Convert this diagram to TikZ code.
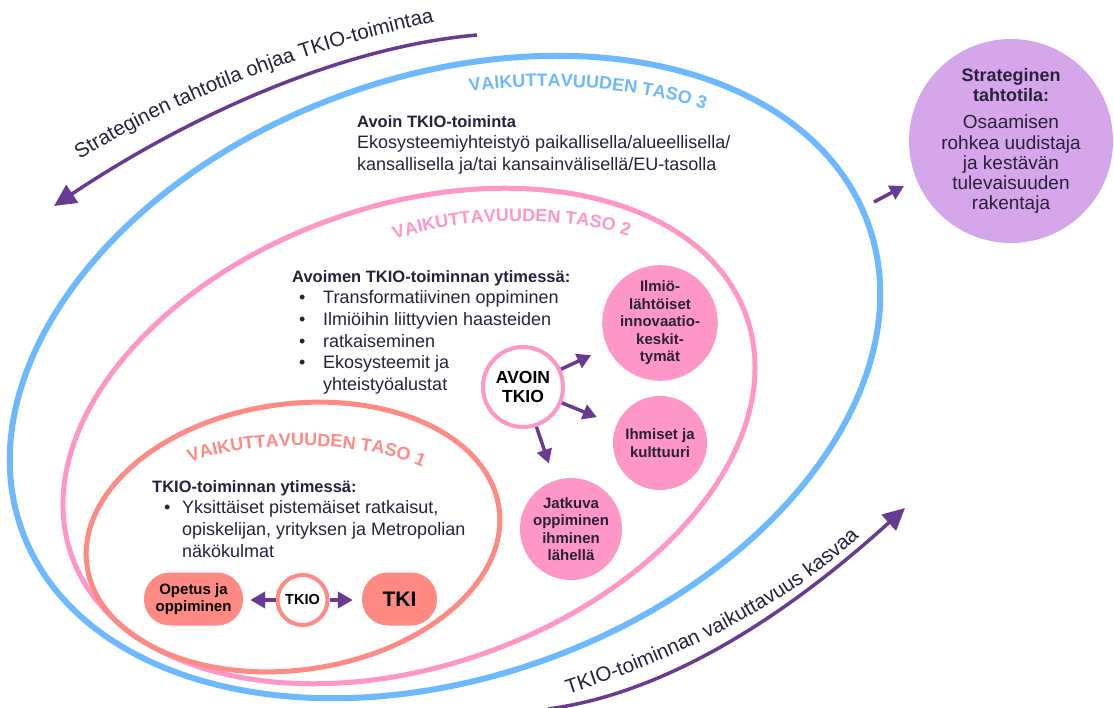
\documentclass[tikz,border=0pt]{standalone}
\usepackage{fontspec}
\setmainfont{Liberation Sans}
\usetikzlibrary{arrows.meta,decorations.text}

\definecolor{ink}{HTML}{272139}
\definecolor{plum}{HTML}{683A91}
\definecolor{lilac}{HTML}{D5A7EA}
\definecolor{lvlthree}{HTML}{6DB9FF}
\definecolor{lvltwo}{HTML}{FF96C8}
\definecolor{lvlone}{HTML}{FF8A84}

\newcommand{\fsz}[2]{\fontsize{#1}{#2}\selectfont}
\newcommand{\bul}[2]{\makebox[#2][l]{\hspace*{#1}\textbullet}}

\begin{document}
\begin{tikzpicture}[x=1pt, y=-1pt,
  body/.style={text=ink, inner sep=0pt, font=\fsz{18}{21.7}},
  bubble/.style={circle, fill=lvltwo, inner sep=0pt, text=ink, align=center, font=\fsz{15}{17.5}\bfseries},
  ring/.style={circle, fill=white, line width=4pt, inner sep=0pt, align=center, text=black},
  pill/.style={rectangle, rounded corners=26pt, fill=lvlone, minimum height=53pt, inner sep=0pt, align=center, text=black, font=\fsz{15}{17}\bfseries},
  bigarrow/.style={draw=plum, line width=3.5pt, -{Triangle[length=22pt,width=21pt]}},
  smallarrow/.style={draw=plum, line width=3.5pt, -{Triangle[length=14pt,width=15pt]}},
  arctext/.style={decorate, decoration={text along path, text={#1}}},
]
\useasboundingbox (0,0) rectangle (1114,708);

% impact levels
\draw[lvlthree, line width=6pt, rotate around={20:(445,377)}] (445,377) ellipse [x radius=450, y radius=300];
\draw[lvltwo, line width=5pt, rotate around={19.6:(409,436)}] (409,436) ellipse [x radius=358, y radius=230];
\draw[lvlone, line width=5pt, rotate around={8:(293,537)}] (293,537) ellipse [x radius=208, y radius=133];

% curved level titles
\path[arctext={|\fsz{18}{20}\bfseries\color{lvlthree}|VAIKUTTAVUUDEN TASO 3}]
  (470,92) .. controls (540,80) and (650,88) .. (716,113) -- (740,123);
\path[arctext={|\fsz{18}{20}\bfseries\color{lvltwo}|VAIKUTTAVUUDEN TASO 2}]
  (395,240) .. controls (460,216) and (570,214) .. (640,240) -- (660,250);
\path[arctext={|\fsz{18}{20}\bfseries\color{lvlone}|VAIKUTTAVUUDEN TASO 1}]
  (190,463) .. controls (250,438) and (375,440) .. (432,472) -- (445,480);

% strategic goal
\node[circle, fill=lilac, minimum size=204pt, inner sep=0pt, align=center, text=ink, font=\fsz{19}{20.3}] (strat) at (1011,141)
  {\textbf{\fsz{18}{20.3}Strateginen}\\\textbf{\fsz{18}{20.3}tahtotila:}\\[7pt]Osaamisen\\rohkea uudistaja\\ja kestävän\\tulevaisuuden\\rakentaja};
\coordinate (sa) at (874,202);
\coordinate (sb) at (904,186);
\draw[smallarrow] (sa) -- (sb);

% outer arrows with their captions
\coordinate (topS) at (477,35);
\coordinate (topE) at (54,206);
\draw[bigarrow] (topS) .. controls (330,48) and (175,125) .. (topE);
\path[arctext={|\fsz{20.5}{22}\color{ink}|Strateginen tahtotila ohjaa TKIO-toimintaa}]
  (80,160) .. controls (165,105) and (315,45) .. (445,20) -- (480,14);

\coordinate (botS) at (548,709);
\coordinate (botE) at (905,508);
\draw[bigarrow] (botS) .. controls (690,690) and (820,585) .. (botE);
\path[arctext={|\fsz{20.5}{22}\color{ink}|TKIO-toiminnan vaikuttavuus kasvaa}]
  (568,694) .. controls (660,665) and (780,612) .. (858,538) -- (875,522);

% level 3 text
\node[body, anchor=north west, align=left, font=\fsz{18}{21.5}] (l3text) at (357,115)
  {\textbf{\fsz{16.5}{21.5}Avoin TKIO-toiminta}\\Ekosysteemiyhteistyö paikallisella/alueellisella/\\kansallisella ja/tai kansainvälisellä/EU-tasolla};

% level 2 text
\node[body, anchor=north west, align=left] (l2text) at (292,270)
  {\textbf{\fsz{16.5}{21.7}Avoimen TKIO-toiminnan ytimessä:}\\
   \bul{7pt}{31pt}Transformatiivinen oppiminen\\
   \bul{7pt}{31pt}Ilmiöihin liittyvien haasteiden\\
   \bul{7pt}{31pt}ratkaiseminen\\
   \bul{7pt}{31pt}Ekosysteemit ja\\
   \hspace*{31pt}yhteistyöalustat};

\node[ring, draw=lvltwo, minimum size=80pt, font=\fsz{17.5}{19}\bfseries] (avoin) at (523,387) {AVOIN\\TKIO};
\node[bubble, minimum size=106pt] (ilmio) at (660,323) {Ilmiö-\\lähtöiset\\innovaatio-\\keskit-\\tymät};
\node[bubble, minimum size=94pt] (ihmiset) at (660,443) {Ihmiset ja\\kulttuuri};
\node[bubble, minimum size=102pt] (jatkuva) at (571,529) {Jatkuva\\oppiminen\\ihminen\\lähellä};
\draw[smallarrow, shorten >=18pt] (avoin) -- (ilmio);
\draw[smallarrow, shorten >=21pt] (avoin) -- (ihmiset);
\draw[smallarrow, shorten >=18pt] (avoin) -- (jatkuva);

% level 1 text
\node[body, anchor=north west, align=left] (l1text) at (152,480)
  {\textbf{\fsz{16.5}{21.7}TKIO-toiminnan ytimessä:}\\
   \bul{12pt}{30pt}Yksittäiset pistemäiset ratkaisut,\\
   \hspace*{30pt}opiskelijan, yrityksen ja Metropolian\\
   \hspace*{30pt}näkökulmat};

\node[pill, minimum width=99pt] (opetus) at (193.5,599) {Opetus ja\\oppiminen};
\node[ring, draw=lvlone, minimum size=50pt, font=\fsz{14.5}{16}\bfseries] (tkio) at (302.5,600) {TKIO};
\node[pill, minimum width=75pt, font=\fsz{21}{24}\bfseries] (tki) at (399.5,599) {TKI};
\draw[draw=plum, line width=4.5pt, -{Triangle[length=15pt,width=16pt]}, shorten >=7pt] (tkio.west) -- (tkio.west -| opetus.east);
\draw[draw=plum, line width=4.5pt, -{Triangle[length=15pt,width=16pt]}, shorten >=9pt] (tkio.east) -- (tkio.east -| tki.west);
\end{tikzpicture}
\end{document}
